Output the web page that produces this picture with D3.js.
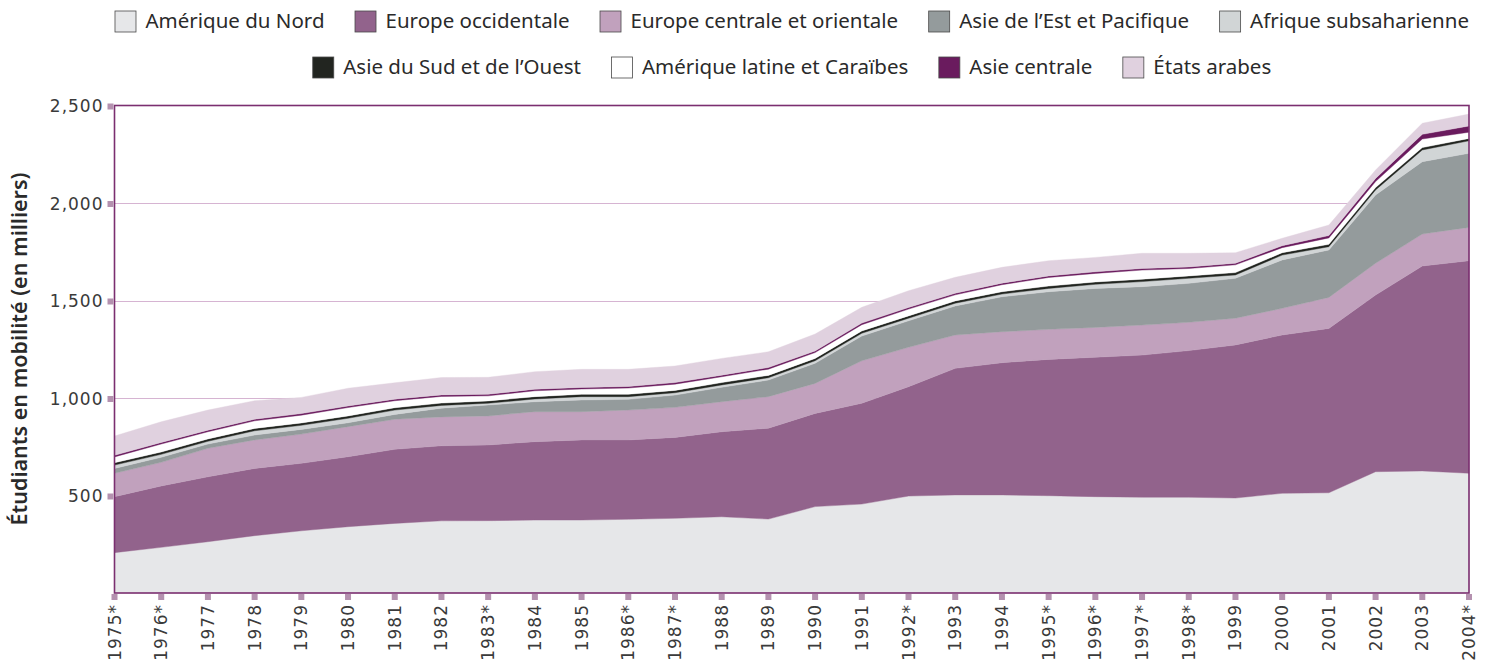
<!DOCTYPE html>
<html>
<head>
<meta charset="utf-8">
<script src="https://cdn.jsdelivr.net/npm/d3@7"></script>
<style>
  body { margin: 0; background: #fff; }
  svg { display: block; }
  .tick-label { font-family: "DejaVu Sans", sans-serif; font-size: 17px; fill: #3a3a3a; letter-spacing: 1px; }
  .legend-label { font-family: "Noto Sans", sans-serif; font-size: 20.5px; fill: #2a2a2a; }
  .axis-title { font-family: "Noto Sans", sans-serif; font-size: 21.5px; font-weight: 600; fill: #2a2a2a; }
</style>
</head>
<body>
<svg id="chart" width="1489" height="661"></svg>
<script>
// years (asterisk = estimated in the source)
var years = ["1975*","1976*","1977","1978","1979","1980","1981","1982","1983*","1984",
             "1985","1986*","1987*","1988","1989","1990","1991","1992*","1993","1994",
             "1995*","1996*","1997*","1998*","1999","2000","2001","2002","2003","2004*"];

// values in thousands of mobile students, per region
var ameriqueNord = [207,234,263,294,319,340,357,370,371,374,374,378,383,391,379,443,456,497,503,503,499,494,491,491,487,511,514,622,626,614];
var europeOcc    = [287,315,333,345,346,359,380,385,388,402,411,407,415,436,466,478,517,561,649,678,699,715,729,752,785,812,843,906,1051,1090];
var europeCentre = [120,121,146,146,150,154,154,148,149,154,145,153,154,154,162,154,218,202,171,159,154,153,154,145,137,137,159,163,164,171];
var asieEst      = [25,26,22,25,24,20,25,45,56,51,60,55,63,74,85,103,127,136,149,179,193,200,197,200,205,248,243,350,371,380];
var afriqueSub   = [17,15,14,22,21,23,22,14,9,14,17,14,12,12,12,13,14,13,14,14,17,21,26,26,17,25,17,26,60,64];
var asieSud      = [12,12,12,12,12,12,12,12,12,12,12,12,12,12,12,12,12,12,12,12,12,12,12,12,12,12,12,12,12,12];
var ameriqueLat  = [30,41,37,39,40,43,36,34,26,30,27,32,32,30,32,30,32,35,31,36,44,44,47,38,40,26,33,31,44,32];
var asieCentrale = [8,8,8,8,8,8,8,8,8,8,8,8,8,8,8,8,8,8,8,8,8,8,8,8,8,10,12,16,24,32];
var etatsArabes  = [99,106,103,95,83,91,84,89,87,90,93,88,85,86,81,87,81,86,82,81,78,74,78,70,54,38,54,43,57,61];

var seriesNames = ["Amérique du Nord","Europe occidentale","Europe centrale et orientale",
  "Asie de l\u2019Est et Pacifique","Afrique subsaharienne","Asie du Sud et de l\u2019Ouest",
  "Amérique latine et Caraïbes","Asie centrale","États arabes"];
var seriesValues = [ameriqueNord, europeOcc, europeCentre, asieEst, afriqueSub, asieSud, ameriqueLat, asieCentrale, etatsArabes];
var colors = ["#e6e7e9","#92638c","#c1a1bd","#949b9c","#d1d5d6","#222520","#ffffff","#6a1b5e","#e0d1df"];

var yTicks = [500, 1000, 1500, 2000, 2500];

// build rows for d3.stack
var rows = years.map(function(y, i) {
  var r = { year: y };
  seriesNames.forEach(function(n, k) { r[n] = seriesValues[k][i]; });
  return r;
});

var svg = d3.select("#chart");
var plotLeft = 114.5, plotRight = 1469, plotTop = 105.5, plotBottom = 593;

var x = d3.scalePoint().domain(years).range([plotLeft, plotRight]);
var y = d3.scaleLinear().domain([0, 2500]).range([plotBottom, plotTop]);
var color = d3.scaleOrdinal().domain(seriesNames).range(colors);

// grid lines (behind the areas)
svg.append("g")
  .selectAll("line")
  .data(yTicks.slice(0, -1))
  .enter().append("line")
  .attr("x1", plotLeft).attr("x2", plotRight)
  .attr("y1", function(d) { return Math.round(y(d)) + 0.5; })
  .attr("y2", function(d) { return Math.round(y(d)) + 0.5; })
  .style("stroke", "#d6b4d2")
  .style("stroke-width", 1.2);

var stack = d3.stack().keys(seriesNames);
var layers = stack(rows);

var area = d3.area()
  .x(function(d) { return x(d.data.year); })
  .y0(function(d) { return y(d[0]); })
  .y1(function(d) { return y(d[1]); });

svg.append("g")
  .selectAll("path")
  .data(layers)
  .enter().append("path")
  .attr("d", area)
  .style("fill", function(d) { return color(d.key); })
  .style("stroke", function(d) { return color(d.key); })
  .style("stroke-width", 0.4);

// frame
svg.append("rect")
  .attr("x", plotLeft).attr("y", plotTop)
  .attr("width", plotRight - plotLeft).attr("height", plotBottom - plotTop)
  .style("fill", "none")
  .style("stroke", "#7b2f70")
  .style("stroke-width", 1.6);

// y ticks: small squares + labels
var yAxis = svg.append("g");
yAxis.selectAll("rect")
  .data(yTicks)
  .enter().append("rect")
  .attr("x", plotLeft - 7).attr("y", function(d) { return y(d) - 2; })
  .attr("width", 6).attr("height", 6)
  .style("fill", "#b491af");
yAxis.selectAll("text")
  .data(yTicks)
  .enter().append("text")
  .attr("class", "tick-label")
  .attr("x", plotLeft - 11)
  .attr("y", function(d) { return y(d) + 1.5; })
  .attr("text-anchor", "end")
  .attr("dominant-baseline", "middle")
  .text(function(d) { return d3.format(",")(d); });

// x ticks: squares below the axis + rotated labels
var xAxis = svg.append("g");
xAxis.selectAll("rect")
  .data(years)
  .enter().append("rect")
  .attr("x", function(d) { return x(d) - 3; })
  .attr("y", plotBottom + 1)
  .attr("width", 6).attr("height", 6)
  .style("fill", "#b491af");
xAxis.selectAll("text")
  .data(years)
  .enter().append("text")
  .attr("class", "tick-label")
  .attr("transform", function(d) { return "translate(" + (x(d) + 6) + "," + (plotBottom + 11) + ") rotate(-90)"; })
  .attr("text-anchor", "end")
  .text(function(d) { return d; });

// y axis title
svg.append("text")
  .attr("class", "axis-title")
  .attr("transform", "translate(27," + 349 + ") rotate(-90)")
  .attr("text-anchor", "middle")
  .text("Étudiants en mobilité (en milliers)");

// legend, two centred rows
var legendRows = [[0,1,2,3,4],[5,6,7,8]];
var legendY = [22, 68];
var legend = svg.append("g");
legendRows.forEach(function(idx, r) {
  var g = legend.append("g");
  var cx = 0;
  idx.forEach(function(k) {
    var item = g.append("g").attr("transform", "translate(" + cx + ",0)");
    item.append("rect")
      .attr("x", 0.5).attr("y", legendY[r] - 11)
      .attr("width", 21).attr("height", 21)
      .style("fill", colors[k])
      .style("stroke", "#4a4a4a")
      .style("stroke-width", 0.8);
    var t = item.append("text")
      .attr("class", "legend-label")
      .attr("x", 31).attr("y", legendY[r])
      .attr("dominant-baseline", "middle")
      .text(seriesNames[k]);
    cx += 31 + t.node().getComputedTextLength() + 30;
  });
  var w = cx - 30;
  g.attr("transform", "translate(" + ((plotLeft + plotRight) / 2 + 0 - w / 2) + ",0)");
});
</script>
</body>
</html>
